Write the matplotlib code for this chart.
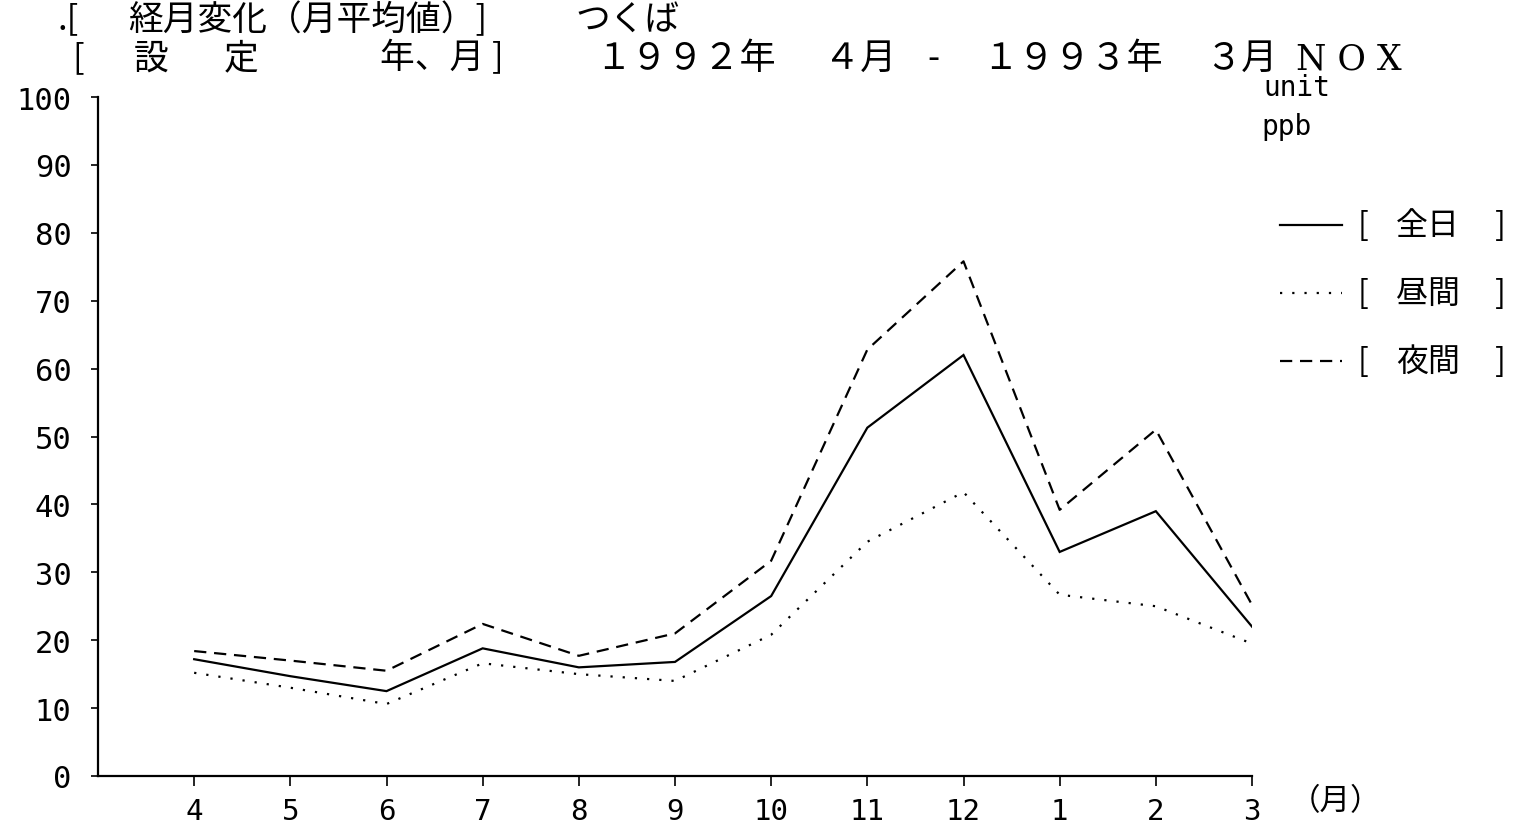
import numpy as np
import matplotlib.pyplot as plt

plt.rcParams['font.family'] = ['Noto Sans CJK JP', 'DejaVu Sans']

# data (NOx, ppb, monthly means, Tsukuba)
months = ['4', '5', '6', '7', '8', '9', '10', '11', '12', '1', '2', '3']
zenjitsu = [17.2, 14.7, 12.5, 18.8, 16.0, 16.8, 26.5, 51.3, 62.0, 33.0, 39.0, 22.0]
chukan = [15.2, 13.0, 10.6, 16.6, 15.0, 14.0, 20.8, 34.5, 41.8, 26.7, 25.0, 19.5]
yakan = [18.4, 17.0, 15.5, 22.4, 17.7, 21.0, 31.7, 62.8, 75.8, 39.2, 51.0, 25.2]
yticks = list(range(0, 101, 10))

fig = plt.figure(figsize=(15.18, 8.29), dpi=100)
W, H = 1518, 829
ax = fig.add_axes([98 / W, 1 - 777 / H, (1252 - 98) / W, (777 - 98) / H])

x = np.arange(len(months))
lw = 1.6
ax.plot(x, zenjitsu, color='black', lw=lw, solid_joinstyle='miter')
ax.plot(x, chukan, color='black', lw=lw, dashes=(1, 4.5))
ax.plot(x, yakan, color='black', lw=lw, dashes=(5.5, 3.5))

ax.set_xlim(-1, 11)
ax.set_ylim(0, 100)
ax.set_xticks(x)
ax.set_xticklabels(months, family='DejaVu Sans Mono', fontsize=21)
ax.set_yticks(yticks)
ax.set_yticklabels([str(v) for v in yticks], family='DejaVu Sans Mono', fontsize=22)
for s in ['top', 'right']:
    ax.spines[s].set_visible(False)
for s in ['left', 'bottom']:
    ax.spines[s].set_linewidth(1.6)
ax.tick_params(axis='y', length=5, width=1.2, pad=14)
ax.tick_params(axis='x', length=7, width=1.2, pad=8)

# title lines
fs = 25
y1 = 1 - 20 / H
y2 = 1 - 59 / H
fig.text(58 / W, y1, '.[', fontsize=fs, va='center')
fig.text(128 / W, y1, '経月変化（月平均値）]', fontsize=fs, va='center')
fig.text(575 / W, y1, 'つくば', fontsize=fs, va='center')
fig.text(72 / W, y2, '[', fontsize=fs, va='center')
fig.text(134 / W, y2, '設', fontsize=fs, va='center')
fig.text(224 / W, y2, '定', fontsize=fs, va='center')
fig.text(380 / W, y2, '年、月 ]', fontsize=fs, va='center')
fig.text(595 / W, y2, '１９９２年', fontsize=26, va='center')
fig.text(824 / W, y2, '４月', fontsize=26, va='center')
fig.text(927 / W, y2, '-', fontsize=fs, va='center')
fig.text(982 / W, y2, '１９９３年', fontsize=26, va='center')
fig.text(1205 / W, y2, '３月', fontsize=26, va='center')
fig.text(1296 / W, y2, 'N O X', fontsize=25, va='center', family='DejaVu Serif')

fig.text(1263 / W, 1 - 88 / H, 'unit', fontsize=20, va='center', family='DejaVu Sans Mono')
fig.text(1261 / W, 1 - 127 / H, 'ppb', fontsize=20, va='center', family='DejaVu Sans Mono')

# legend
labels = ['全日', '昼間', '夜間']
styles = [dict(), dict(dashes=(1, 4.5)), dict(dashes=(5.5, 3.5))]
for i, (lab, st) in enumerate(zip(labels, styles)):
    yy = 1 - (226 + 68 * i) / H
    fig.add_artist(plt.Line2D([1280 / W, 1342 / W], [yy, yy], color='black', lw=lw, **st))
    fig.text(1358 / W, yy, '[', fontsize=23, va='center')
    fig.text(1396 / W, yy, lab, fontsize=23, va='center')
    fig.text(1495 / W, yy, ']', fontsize=23, va='center')

fig.text(1290 / W, 1 - 802 / H, '（月）', fontsize=22, va='center')

fig.savefig('out.png', dpi=100, facecolor='white')
